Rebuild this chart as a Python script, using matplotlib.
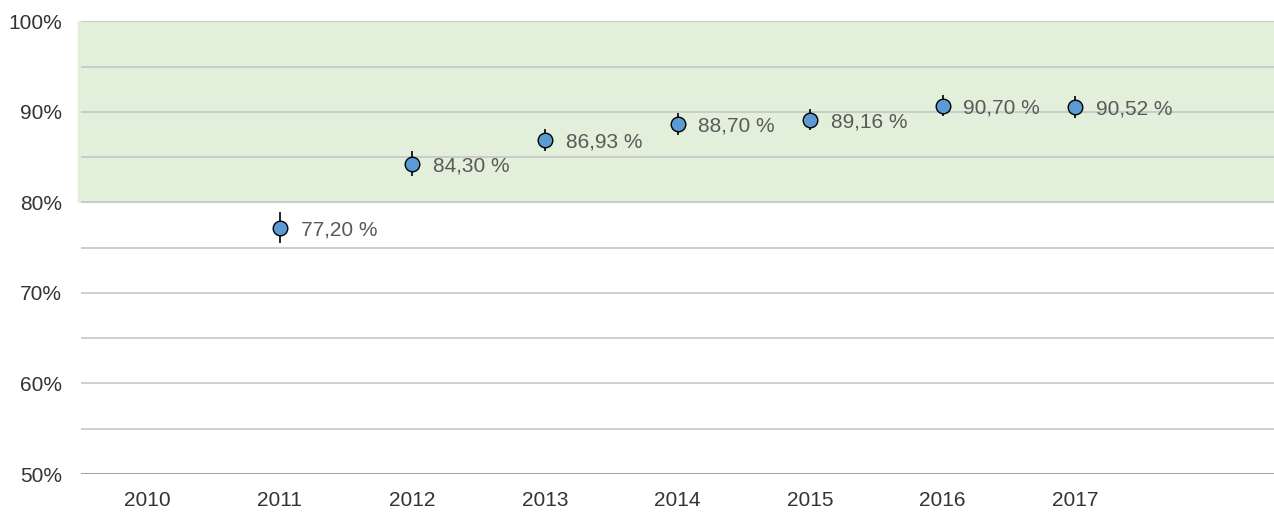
import numpy as np
import matplotlib.pyplot as plt

# Data
years = ['2010', '2011', '2012', '2013', '2014', '2015', '2016', '2017', '']
values = [None, 77.20, 84.30, 86.93, 88.70, 89.16, 90.70, 90.52]
errors = [None, 1.7, 1.4, 1.2, 1.2, 1.2, 1.2, 1.2]
labels = [None, '77,20 %', '84,30 %', '86,93 %', '88,70 %', '89,16 %', '90,70 %', '90,52 %']
y_ticks = [50, 60, 70, 80, 90, 100]

plt.rcParams['font.family'] = ['Liberation Sans', 'DejaVu Sans']

fig = plt.figure(figsize=(12.74, 5.12), dpi=100)
ax = fig.add_axes([0.0636, 0.0742, 0.9364, 0.884])

n = len(years)
ax.set_xlim(-0.5, n - 0.5)
ax.set_ylim(50, 100)

# target band
ax.axhspan(80, 100, xmin=-0.0025, xmax=1, color='#e2efda', zorder=0, clip_on=False)

for y in np.arange(55, 101, 5):
    ax.axhline(y, color='#c6c6c6', lw=1.2, zorder=1)
ax.axhline(50, color='#a0a0a0', lw=1.4, zorder=1)

xs = [i for i, v in enumerate(values) if v is not None]
vs = [v for v in values if v is not None]
es = [e for e in errors if e is not None]
ax.errorbar(xs, vs, yerr=es, fmt='none', ecolor='black', elinewidth=1.2, capsize=0, zorder=3)
ax.scatter(xs, vs, s=110, color='#5b9bd5', edgecolors='black', linewidths=1.0, zorder=4)

for x, v, lab in zip(xs, vs, [l for l in labels if l is not None]):
    ax.annotate(lab, (x, v), xytext=(15, -1.5), textcoords='offset points',
                va='center', ha='left', fontsize=15, color='#595959', zorder=5)

ax.set_xticks(range(n))
ax.set_xticklabels(years, fontsize=15, color='#333333')
ax.set_yticks(y_ticks)
ax.set_yticklabels([f'{t}%' for t in y_ticks], fontsize=15, color='#333333')
ax.tick_params(axis='y', length=0, pad=13.5)
ax.tick_params(axis='x', length=0, pad=12)
for s in ax.spines.values():
    s.set_visible(False)

fig.savefig('out.png', dpi=100)
